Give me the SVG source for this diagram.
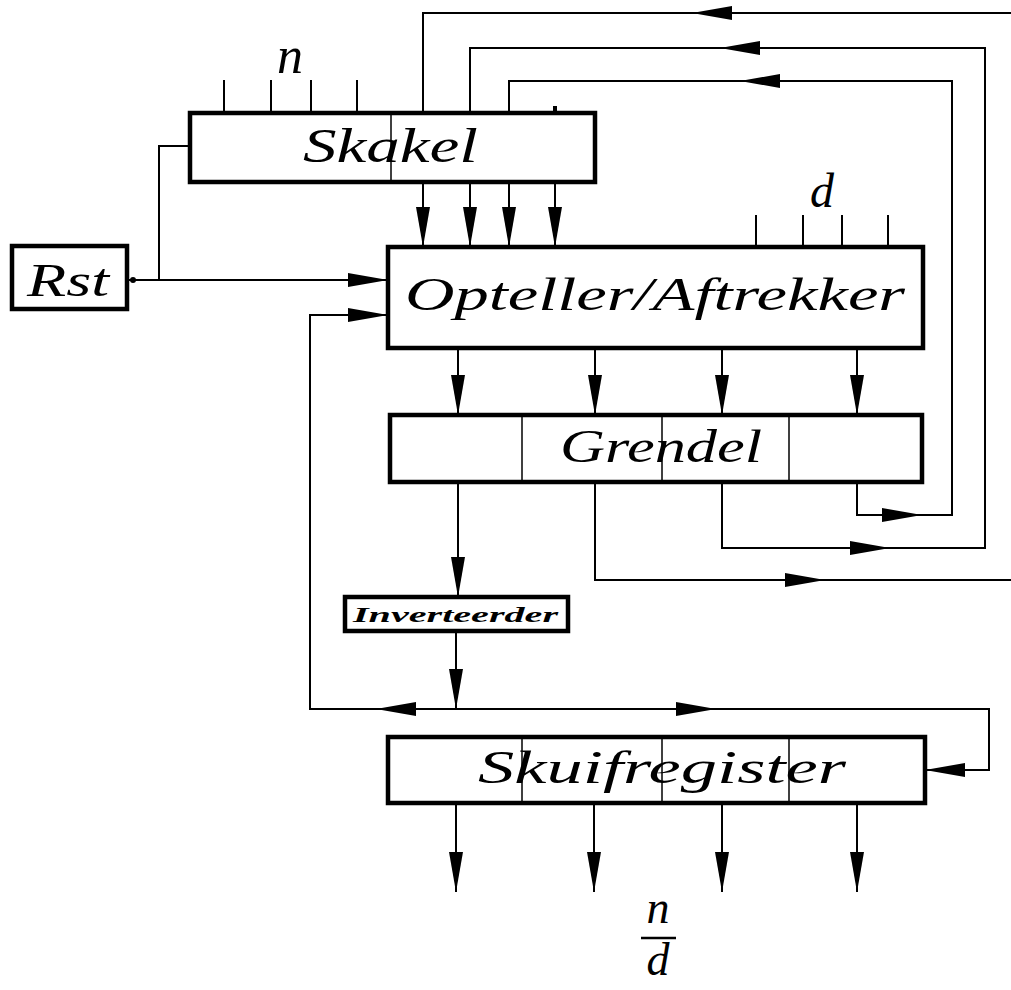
<svg xmlns="http://www.w3.org/2000/svg" xmlns:xlink="http://www.w3.org/1999/xlink" width="1011" height="990" viewBox="0 0 1011 990">
<style>
.box{fill:#fff;stroke:#000;stroke-width:4.5}
.div{stroke:#000;stroke-width:1.5}
.w{fill:none;stroke:#000;stroke-width:2}
.lbl{font-family:"Liberation Serif",serif;font-style:italic;fill:#000}
.math{font-family:"Liberation Serif",serif;font-style:italic;fill:#000}
.inv{font-family:"Liberation Serif",serif;font-style:italic;font-weight:bold;fill:#000}
</style>
<defs>
<path id="ah" d="M0,0 L-40,-7 L-40,7 Z" fill="#000"/>
</defs>
<rect width="1011" height="990" fill="#fff"/>

<g id="connectors">
<path class="w" d="M224,80V113M271,80V113M311,80V113M357,80V113"/>
<path d="M553,106h4v7h-4z" fill="#000"/>
<path class="w" d="M756,215V247M803,215V247M842,215V247M888,215V247"/>
<path class="w" d="M423,182V247M470,182V247M509,182V247M555,182V247"/>
<use xlink:href="#ah" transform="translate(423,247) rotate(90)"/>
<use xlink:href="#ah" transform="translate(470,247) rotate(90)"/>
<use xlink:href="#ah" transform="translate(509,247) rotate(90)"/>
<use xlink:href="#ah" transform="translate(555,247) rotate(90)"/>
<path class="w" d="M127,280H388M159,280V146H190"/>
<circle cx="133" cy="280" r="3" fill="#000"/>
<use xlink:href="#ah" transform="translate(388,280)"/>
<path class="w" d="M388,315H310V709H989V770H925"/>
<use xlink:href="#ah" transform="translate(388,315)"/>
<use xlink:href="#ah" transform="translate(376,709) rotate(180)"/>
<use xlink:href="#ah" transform="translate(716,709)"/>
<use xlink:href="#ah" transform="translate(925,770) rotate(180)"/>
<path class="w" d="M458,348V415M595,348V415M722,348V415M857,348V415"/>
<use xlink:href="#ah" transform="translate(458,415) rotate(90)"/>
<use xlink:href="#ah" transform="translate(595,415) rotate(90)"/>
<use xlink:href="#ah" transform="translate(722,415) rotate(90)"/>
<use xlink:href="#ah" transform="translate(857,415) rotate(90)"/>
<path class="w" d="M458,482V597"/>
<use xlink:href="#ah" transform="translate(458,597) rotate(90)"/>
<path class="w" d="M456,631V709"/>
<use xlink:href="#ah" transform="translate(456,709) rotate(90)"/>
<path class="w" d="M595,482V580H1011"/>
<use xlink:href="#ah" transform="translate(825,580)"/>
<path class="w" d="M1011,13H423V113"/>
<use xlink:href="#ah" transform="translate(692,13) rotate(180)"/>
<path class="w" d="M722,482V548H985V48H470V113"/>
<use xlink:href="#ah" transform="translate(890,548)"/>
<use xlink:href="#ah" transform="translate(720,48) rotate(180)"/>
<path class="w" d="M857,482V515H952V81H509V113"/>
<use xlink:href="#ah" transform="translate(922,515)"/>
<use xlink:href="#ah" transform="translate(740,81) rotate(180)"/>
<path class="w" d="M456,803V892M594,803V892M722,803V892M857,803V892"/>
<use xlink:href="#ah" transform="translate(456,892) rotate(90)"/>
<use xlink:href="#ah" transform="translate(594,892) rotate(90)"/>
<use xlink:href="#ah" transform="translate(722,892) rotate(90)"/>
<use xlink:href="#ah" transform="translate(857,892) rotate(90)"/>
</g>

<g id="skakel">
<rect class="box" x="190" y="113" width="405" height="69"/>
<line class="div" x1="391" y1="113" x2="391" y2="182"/>
<text class="lbl" x="303" y="162" font-size="48" textLength="175" lengthAdjust="spacingAndGlyphs">Skakel</text>
</g>

<g id="rst">
<rect class="box" x="12" y="246" width="115" height="63"/>
<text class="lbl" x="27" y="296" font-size="47" textLength="82" lengthAdjust="spacingAndGlyphs">Rst</text>
</g>

<g id="opteller">
<rect class="box" x="388" y="247" width="535" height="101"/>
<text class="lbl" x="405" y="310" font-size="47" textLength="500" lengthAdjust="spacingAndGlyphs">Opteller/Aftrekker</text>
</g>

<g id="grendel">
<rect class="box" x="390" y="415" width="532" height="67"/>
<line class="div" x1="522" y1="415" x2="522" y2="482"/>
<line class="div" x1="662" y1="415" x2="662" y2="482"/>
<line class="div" x1="789" y1="415" x2="789" y2="482"/>
<text class="lbl" x="560" y="462" font-size="47" textLength="202" lengthAdjust="spacingAndGlyphs">Grendel</text>
</g>

<g id="inverteerder">
<rect class="box" x="345" y="597" width="223" height="34" stroke-width="4"/>
<text class="inv" x="353" y="622" font-size="21" textLength="205" lengthAdjust="spacingAndGlyphs">Inverteerder</text>
</g>

<g id="skuifregister">
<rect class="box" x="388" y="737" width="537" height="66"/>
<line class="div" x1="522" y1="737" x2="522" y2="803"/>
<line class="div" x1="662" y1="737" x2="662" y2="803"/>
<line class="div" x1="789" y1="737" x2="789" y2="803"/>
<text class="lbl" x="478" y="783" font-size="47" textLength="368" lengthAdjust="spacingAndGlyphs">Skuifregister</text>
</g>

<g id="labels">
<text class="math" x="290" y="73" font-size="52" text-anchor="middle">n</text>
<text class="math" x="822" y="207" font-size="48" text-anchor="middle">d</text>
<text class="math" x="658" y="923" font-size="46" text-anchor="middle">n</text>
<line x1="641" y1="938" x2="676" y2="938" stroke="#000" stroke-width="2.5"/>
<text class="math" x="658" y="975" font-size="46" text-anchor="middle">d</text>
</g>
</svg>
